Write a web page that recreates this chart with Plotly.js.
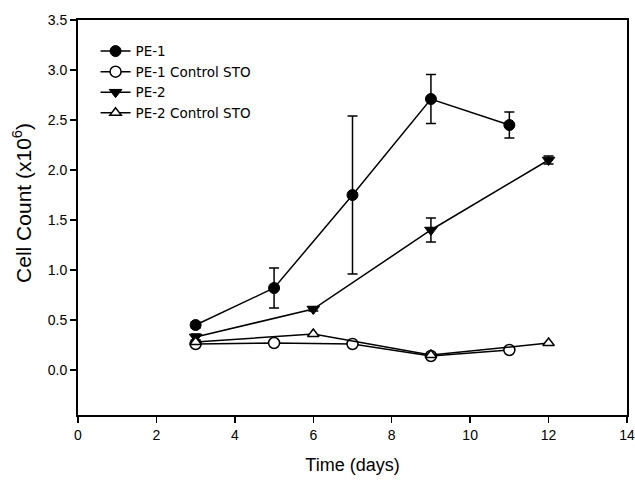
<!DOCTYPE html>
<html>
<head>
<meta charset="utf-8">
<script src="https://cdn.plot.ly/plotly-3.0.1.min.js"></script>
<style>html,body{margin:0;padding:0;background:#fff;}#chart{width:635px;height:480px;}</style>
</head>
<body>
<div id="chart"></div>
<script>
// Data
var pe1Days = [3, 5, 7, 9, 11];
var pe1Count = [0.45, 0.82, 1.75, 2.71, 2.45];
var pe1Err = [0.03, 0.20, 0.79, 0.245, 0.13];

var pe1CtrlDays = [3, 5, 7, 9, 11];
var pe1CtrlCount = [0.26, 0.27, 0.26, 0.14, 0.20];

var pe2Days = [3, 6, 9, 12];
var pe2Count = [0.33, 0.61, 1.40, 2.10];
var pe2Err = [0.03, 0.02, 0.12, 0.04];

var pe2CtrlDays = [3, 6, 9, 12];
var pe2CtrlCount = [0.28, 0.36, 0.15, 0.27];

var seriesNames = ["PE-1", "PE-1 Control STO", "PE-2", "PE-2 Control STO"];
var xTicks = [0, 2, 4, 6, 8, 10, 12, 14];
var yTicks = [0.0, 0.5, 1.0, 1.5, 2.0, 2.5, 3.0, 3.5];
var xTitle = "Time (days)";
var yTitle = "Cell Count (x10<sup>6</sup>)";

var lineStyle = {color: "#000", width: 1.5};
var errStyle = function(arr){ return {type: "data", array: arr, visible: true, color: "#000", thickness: 1.5, width: 5}; };

var traces = [
  {x: pe1Days, y: pe1Count, name: seriesNames[0], mode: "lines+markers", line: lineStyle,
   marker: {symbol: "circle", size: 11, color: "#000", line: {color: "#000", width: 1}},
   error_y: errStyle(pe1Err)},
  {x: pe1CtrlDays, y: pe1CtrlCount, name: seriesNames[1], mode: "lines+markers", line: lineStyle,
   marker: {symbol: "circle", size: 11, color: "#fff", line: {color: "#000", width: 1.5}}},
  {x: pe2Days, y: pe2Count, name: seriesNames[2], mode: "lines+markers", line: lineStyle,
   marker: {symbol: "triangle-down", size: 11, color: "#000", line: {color: "#000", width: 1}},
   error_y: errStyle(pe2Err)},
  {x: pe2CtrlDays, y: pe2CtrlCount, name: seriesNames[3], mode: "lines+markers", line: lineStyle,
   marker: {symbol: "triangle-up", size: 10, color: "#fff", line: {color: "#000", width: 1.5}}}
];

var fam = "Liberation Sans, Arial, sans-serif";
var font = {family: fam, size: 13, color: "#000"};

var layout = {
  width: 635, height: 480,
  margin: {l: 78, r: 8, t: 20, b: 65},
  paper_bgcolor: "#fff", plot_bgcolor: "#fff",
  font: font,
  showlegend: true,
  legend: {x: 0.032, y: 0.96, xanchor: "left", yanchor: "top", bgcolor: "rgba(0,0,0,0)",
           font: {family: "DejaVu Sans, sans-serif", size: 13.5, color: "#000"}, tracegroupgap: 0},
  xaxis: {
    range: [0, 14], tickvals: xTicks, ticktext: xTicks.map(String),
    ticks: "outside", ticklen: 6, tickwidth: 1.5, tickcolor: "#000",
    showline: true, linecolor: "#000", linewidth: 2, mirror: true,
    showgrid: false, zeroline: false,
    tickfont: {family: fam, size: 14, color: "#000"},
    title: {text: xTitle, font: {family: fam, size: 18, color: "#000"}, standoff: 17}
  },
  yaxis: {
    range: [-0.45, 3.5], tickvals: yTicks, ticktext: yTicks.map(function(v){return v.toFixed(1);}),
    ticks: "outside", ticklen: 6, tickwidth: 1.5, tickcolor: "#000",
    showline: true, linecolor: "#000", linewidth: 2, mirror: true,
    showgrid: false, zeroline: false,
    tickfont: {family: fam, size: 14, color: "#000"}
  },
  annotations: [{
    text: yTitle, textangle: -90, showarrow: false,
    xref: "paper", yref: "paper", x: -0.102, y: 0.537, xanchor: "center", yanchor: "middle",
    font: {family: fam, size: 21, color: "#000"}
  }]
};

Plotly.newPlot("chart", traces, layout, {staticPlot: true, displayModeBar: false});
</script>
</body>
</html>
